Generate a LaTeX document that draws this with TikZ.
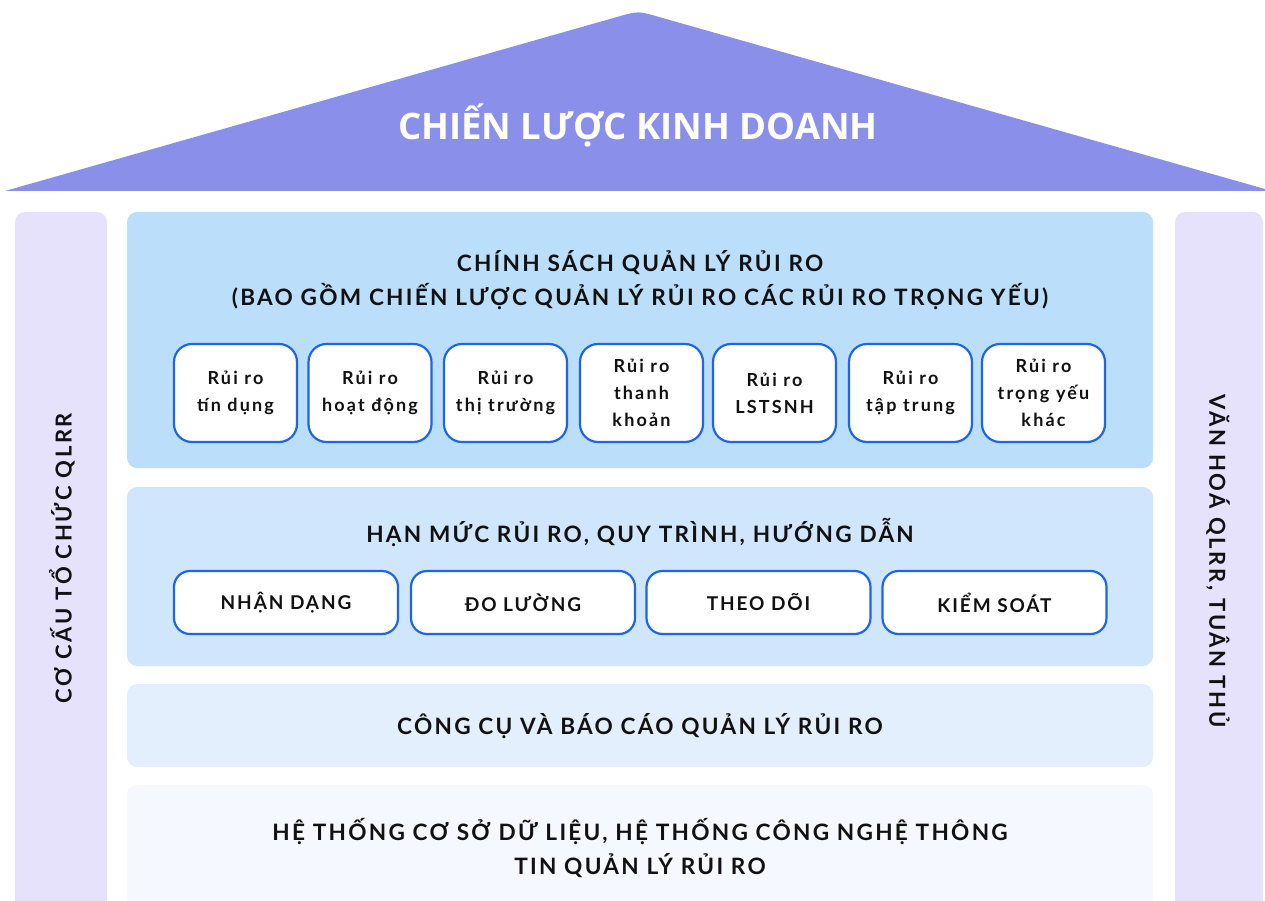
\documentclass[tikz,border=0pt]{standalone}
\usepackage{fontspec}
\setmainfont{Lato}
\newfontfamily\rooffont{Open Sans}
\newcommand{\spaced}[1]{\addfontfeatures{LetterSpace=#1}}
\definecolor{roofc}{HTML}{8A90E9}
\definecolor{pillarc}{HTML}{E6E2FC}
\definecolor{layera}{HTML}{BBDEFB}
\definecolor{layerb}{HTML}{D0E6FD}
\definecolor{layerc}{HTML}{E3EFFD}
\definecolor{layerd}{HTML}{F5F8FE}
\definecolor{edgec}{HTML}{1E66E6}
\definecolor{inkc}{HTML}{111111}
\begin{document}
\begin{tikzpicture}[x=1pt,y=-1pt,
  layer/.style={rounded corners=10pt},
  title/.style={text=inkc,font=\bfseries\fontsize{22.6}{34}\selectfont\spaced{10},align=center},
  riskbox/.style={draw=edgec,line width=2.2pt,fill=white,rounded corners=18pt,
    minimum width=123pt,minimum height=98pt,inner sep=0pt,align=center,
    text=inkc,font=\bfseries\fontsize{18}{27}\selectfont\spaced{12}},
  stepbox/.style={draw=edgec,line width=2.2pt,fill=white,rounded corners=16pt,
    minimum width=224pt,minimum height=63pt,inner sep=0pt,align=center,
    text=inkc,font=\bfseries\fontsize{19}{22}\selectfont\spaced{10}},
  pillartext/.style={text=inkc,font=\bfseries\fontsize{22}{24}\selectfont\spaced{12}}]
\useasboundingbox (0,0) rectangle (1265,901);
\clip (0,0) rectangle (1265,901);

% roof
\fill[roofc] (5,191) -- (618,16.7) .. controls (638,11) .. (658,16.7) -- (1272,191) -- cycle;
\node[text=white,font=\rooffont\bfseries\fontsize{36.5}{40}\selectfont] (roof) at (638,126) {CHIẾN LƯỢC KINH DOANH};

% side pillars
\fill[pillarc,layer] (15,212) rectangle (107,930);
\fill[pillarc,layer] (1175,212) rectangle (1263,930);
\node[pillartext,rotate=90] (leftpillar) at (62,558) {CƠ CẤU TỔ CHỨC QLRR};
\node[pillartext,rotate=-90] (rightpillar) at (1218,561) {VĂN HOÁ QLRR, TUÂN THỦ};

% layers
\fill[layera,layer] (127,212) rectangle (1153,468);
\fill[layerb,layer] (127,487) rectangle (1153,666);
\fill[layerc,layer] (127,684) rectangle (1153,767);
\fill[layerd,layer] (127,785) rectangle (1153,930);

\node[title] (policy) at (640,280) {CHÍNH SÁCH QUẢN LÝ RỦI RO\\(BAO GỒM CHIẾN LƯỢC QUẢN LÝ RỦI RO CÁC RỦI RO TRỌNG YẾU)};
\node[title] (limits) at (640,533) {HẠN MỨC RỦI RO, QUY TRÌNH, HƯỚNG DẪN};
\node[title] (tools) at (640,726) {CÔNG CỤ VÀ BÁO CÁO QUẢN LÝ RỦI RO};
\node[title] (systems) at (640,848) {HỆ THỐNG CƠ SỞ DỮ LIỆU, HỆ THỐNG CÔNG NGHỆ THÔNG\\TIN QUẢN LÝ RỦI RO};

% risk types
\node[riskbox] (r1) at (235.5,393) {Rủi ro\\tín dụng};
\node[riskbox] (r2) at (370,393) {Rủi ro\\hoạt động};
\node[riskbox] (r3) at (505.5,393) {Rủi ro\\thị trường};
\node[riskbox] (r4) at (641.5,393) {Rủi ro\\thanh\\khoản};
\node[riskbox] (r5) at (774.5,393) {Rủi ro\\LSTSNH};
\node[riskbox] (r6) at (910.5,393) {Rủi ro\\tập trung};
\node[riskbox] (r7) at (1043.5,393) {Rủi ro\\trọng yếu\\khác};

% process steps
\node[stepbox] (s1) at (286,602.5) {NHẬN DẠNG};
\node[stepbox] (s2) at (523,602.5) {ĐO LƯỜNG};
\node[stepbox] (s3) at (758.5,602.5) {THEO DÕI};
\node[stepbox] (s4) at (994.5,602.5) {KIỂM SOÁT};
\end{tikzpicture}
\end{document}
